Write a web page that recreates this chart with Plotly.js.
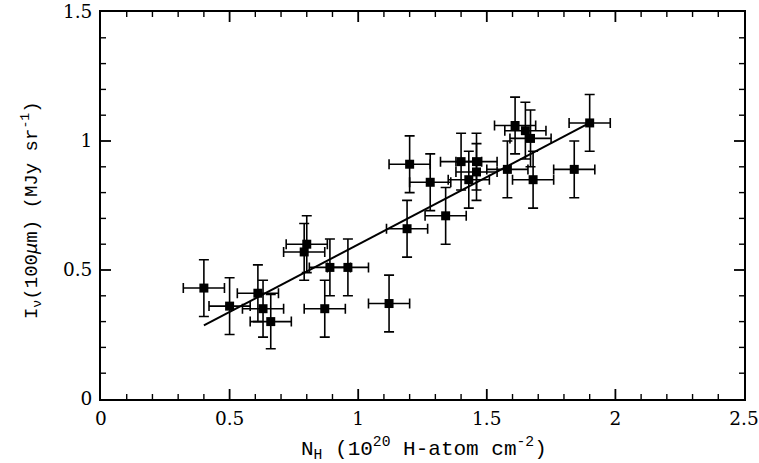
<!DOCTYPE html>
<html>
<head>
<meta charset="utf-8">
<script src="https://cdn.plot.ly/plotly-3.0.1.min.js"></script>
<style>html,body{margin:0;padding:0;background:#fff;}#chart{width:759px;height:463px;}</style>
</head>
<body>
<div id="chart"></div>
<script>
// Column density N_H (10^20 H-atom cm^-2)
const nH = [0.40, 0.50, 0.61, 0.63, 0.66, 0.79, 0.80, 0.87, 0.89, 0.96, 1.12, 1.19, 1.20, 1.28, 1.34, 1.40, 1.43, 1.46, 1.46, 1.58, 1.61, 1.65, 1.67, 1.68, 1.84, 1.90];
// 100 micron intensity (MJy sr^-1)
const i100 = [0.43, 0.36, 0.41, 0.35, 0.30, 0.57, 0.60, 0.35, 0.51, 0.51, 0.37, 0.66, 0.91, 0.84, 0.71, 0.92, 0.85, 0.92, 0.88, 0.89, 1.06, 1.04, 1.01, 0.85, 0.89, 1.07];
const nHErr = [0.08, 0.08, 0.08, 0.08, 0.08, 0.08, 0.08, 0.08, 0.08, 0.08, 0.08, 0.08, 0.08, 0.08, 0.08, 0.08, 0.08, 0.08, 0.08, 0.08, 0.08, 0.08, 0.08, 0.08, 0.08, 0.08];
const i100Err = [0.11, 0.11, 0.11, 0.11, 0.105, 0.11, 0.11, 0.11, 0.11, 0.11, 0.11, 0.11, 0.11, 0.11, 0.11, 0.11, 0.11, 0.11, 0.11, 0.11, 0.11, 0.11, 0.11, 0.11, 0.11, 0.11];
// Linear fit endpoints
const fitX = [0.40, 1.90];
const fitY = [0.285, 1.07];
// Axis ranges and tick positions
const xRange = [0, 2.5];
const yRange = [0, 1.5];
const xMajor = [0.5, 1, 1.5, 2];
const xMinor = [0.1, 0.2, 0.3, 0.4, 0.6, 0.7, 0.8, 0.9, 1.1, 1.2, 1.3, 1.4, 1.6, 1.7, 1.8, 1.9, 2.1, 2.2, 2.3, 2.4];
const yMajor = [0.5, 1];
const yMinor = [0.1, 0.2, 0.3, 0.4, 0.6, 0.7, 0.8, 0.9, 1.1, 1.2, 1.3, 1.4];

const W = 759, H = 463;
const M = {l: 101, r: 15, t: 12, b: 64};
const plotW = W - M.l - M.r, plotH = H - M.t - M.b;
const tickFont = {family: 'DejaVu Serif', size: 18.5, color: '#000'};

// Build inward tick segments on all four sides from the tick arrays (length in px -> axis units)
function tickSegments(xs, ys, lenPx) {
  const ly = lenPx * (yRange[1] - yRange[0]) / plotH;
  const lx = lenPx * (xRange[1] - xRange[0]) / plotW;
  const tx = [], ty = [];
  xs.forEach(v => {
    tx.push(v, v, null, v, v, null);
    ty.push(yRange[0], yRange[0] + ly, null, yRange[1], yRange[1] - ly, null);
  });
  ys.forEach(v => {
    tx.push(xRange[0], xRange[0] + lx, null, xRange[1], xRange[1] - lx, null);
    ty.push(v, v, null, v, v, null);
  });
  return {tx, ty};
}
const majorSeg = tickSegments(xMajor, yMajor, 10);
const minorSeg = tickSegments(xMinor, yMinor, 5);

const data = [
  {
    x: majorSeg.tx, y: majorSeg.ty, mode: 'lines', type: 'scatter', connectgaps: false,
    line: {color: '#000', width: 1.8}, hoverinfo: 'skip', showlegend: false
  },
  {
    x: minorSeg.tx, y: minorSeg.ty, mode: 'lines', type: 'scatter', connectgaps: false,
    line: {color: '#000', width: 1.4}, hoverinfo: 'skip', showlegend: false
  },
  {
    x: fitX, y: fitY, mode: 'lines', type: 'scatter',
    line: {color: '#000', width: 2}, hoverinfo: 'skip', showlegend: false
  },
  {
    x: nH, y: i100, mode: 'markers', type: 'scatter', showlegend: false,
    marker: {symbol: 'square', size: 9, color: '#000'},
    error_x: {type: 'data', array: nHErr, visible: true, color: '#000', thickness: 1.6, width: 5},
    error_y: {type: 'data', array: i100Err, visible: true, color: '#000', thickness: 1.6, width: 5}
  }
];

const layout = {
  width: W, height: H,
  margin: M,
  paper_bgcolor: '#fff', plot_bgcolor: '#fff',
  showlegend: false,
  xaxis: {
    range: xRange, tickmode: 'linear', tick0: 0, dtick: 0.5, ticklabeloverflow: 'allow',
    ticks: '', showline: true, linecolor: '#000', linewidth: 2, mirror: true,
    showgrid: false, zeroline: false, tickfont: tickFont, ticklabelstandoff: 2
  },
  yaxis: {
    range: yRange, tickmode: 'linear', tick0: 0, dtick: 0.5,
    ticks: '', showline: true, linecolor: '#000', linewidth: 2, mirror: true,
    showgrid: false, zeroline: false, tickfont: tickFont, ticklabelstandoff: 3
  },
  annotations: [
    {text: 'N<sub>H</sub> (10<sup>20</sup> H-atom cm<sup>-2</sup>)', xref: 'paper', yref: 'paper',
     x: 0.503, y: -0.127, xanchor: 'center', yanchor: 'middle', showarrow: false,
     font: {family: 'Liberation Mono', size: 21, color: '#000'}},
    {text: 'I<sub>ν</sub>(100<i>μ</i>m) (MJy sr<sup>-1</sup>)', xref: 'paper', yref: 'paper',
     x: -0.109, y: 0.488, xanchor: 'center', yanchor: 'middle', textangle: -90, showarrow: false,
     font: {family: 'Liberation Mono', size: 19, color: '#000'}}
  ]
};

Plotly.newPlot('chart', data, layout, {staticPlot: true, displayModeBar: false});
</script>
</body>
</html>
